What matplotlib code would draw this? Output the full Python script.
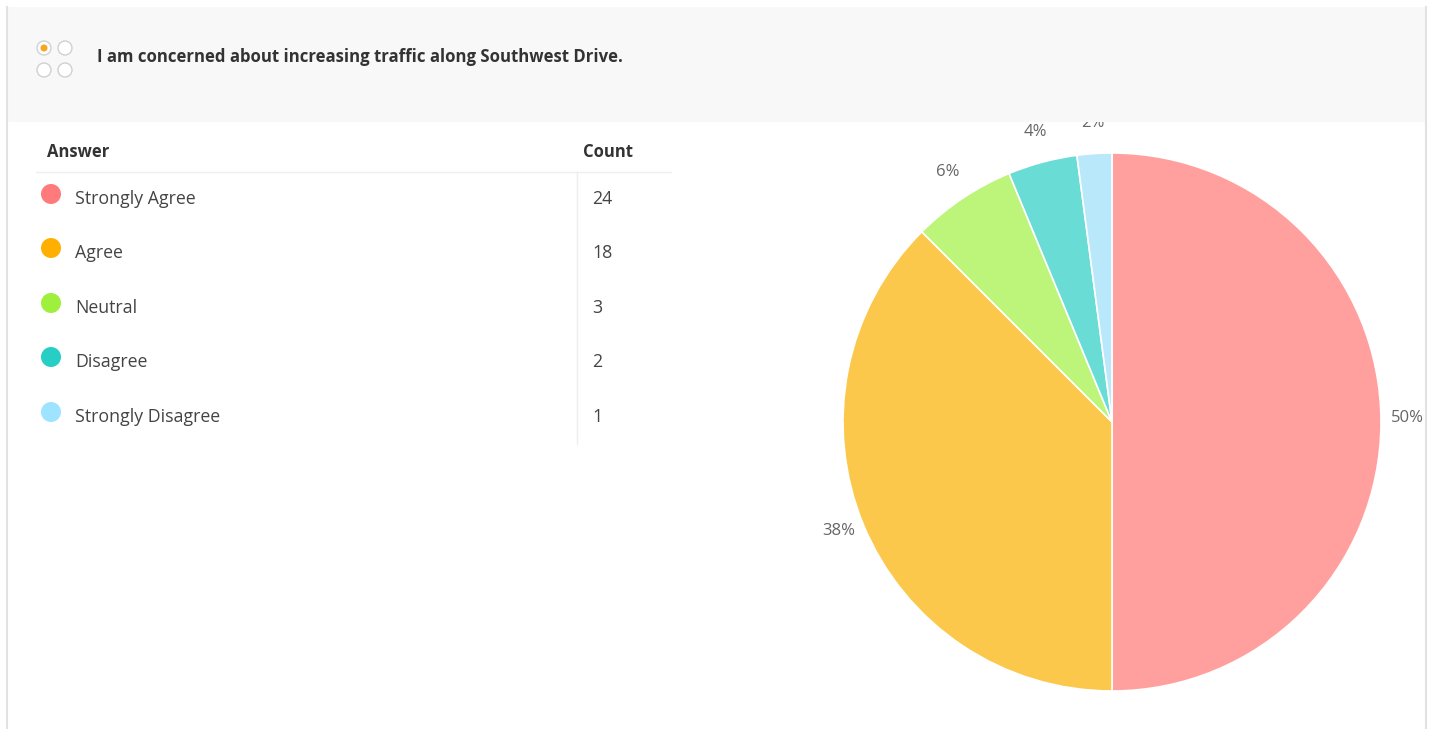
import matplotlib
matplotlib.use("Agg")
import matplotlib.pyplot as plt
from matplotlib.patches import Rectangle, Circle

title = "I am concerned about increasing traffic along Southwest Drive."
answers = ["Strongly Agree", "Agree", "Neutral", "Disagree", "Strongly Disagree"]
counts = [24, 18, 3, 2, 1]
dot_colors = ["#FF7B7B", "#FFAF00", "#9EF03C", "#26CEC4", "#9EE3FF"]
pie_colors = ["#FFA09E", "#FBC84C", "#BCF57A", "#6ADCD6", "#BAE8FB"]

W, H = 1435, 729
fig = plt.figure(figsize=(W / 100, H / 100), dpi=100)
ax = fig.add_axes([0, 0, 1, 1])
FONT = "Open Sans"

def Y(py):
    return H - py

# pie
wedges, texts, autotexts = ax.pie(
    counts, colors=pie_colors, startangle=90, counterclock=False,
    center=(1112, Y(422)), radius=269,
    autopct=lambda p: f"{p:.0f}%", pctdistance=1.1,
    wedgeprops=dict(edgecolor="white", linewidth=1.2),
    textprops=dict(fontsize=12, color="#666666", family=FONT),
)
for t in autotexts:
    x, y = t.get_position()
    t.set_position((x, y + 4))

ax.set_xlim(0, W)
ax.set_ylim(0, H)
ax.set_aspect("equal")
ax.axis("off")

# header band (covers top of pie labels)
ax.add_patch(Rectangle((8, Y(122)), 1417, 115, facecolor="#F8F8F8", edgecolor="none", zorder=5))
# borders
ax.plot([7, 7], [0, Y(7)], color="#E2E2E2", lw=1.5, zorder=6)
ax.plot([1426, 1426], [0, Y(7)], color="#E2E2E2", lw=1.5, zorder=6)

# radio icon
for (cx, cy) in [(44, 48), (65, 48), (44, 70), (65, 70)]:
    ax.add_patch(Circle((cx, Y(cy)), 7, facecolor="white", edgecolor="#D0D0D0", lw=1, zorder=7))
ax.add_patch(Circle((44, Y(48)), 3.5, facecolor="#F5A623", edgecolor="none", zorder=8))

ax.text(97, Y(57), title, fontsize=12.1, fontweight="bold", color="#333333",
        family=FONT, va="center", ha="left", zorder=8)

# table
ax.text(47, Y(152), "Answer", fontsize=12, fontweight="bold", color="#333333",
        family=FONT, va="center", ha="left")
ax.text(583, Y(152), "Count", fontsize=12, fontweight="bold", color="#333333",
        family=FONT, va="center", ha="left")
ax.plot([36, 671], [Y(172), Y(172)], color="#EEEEEE", lw=1)
ax.plot([577, 577], [Y(172), Y(444)], color="#EEEEEE", lw=1)

row_y = [199, 253, 308, 362, 417]
for yy, lab, c, dc in zip(row_y, answers, counts, dot_colors):
    ax.add_patch(Circle((51, Y(yy - 5)), 10, facecolor=dc, edgecolor="none"))
    ax.text(75, Y(yy), lab, fontsize=12.8, color="#444444", family=FONT, va="center", ha="left")
    ax.text(592, Y(yy), str(c), fontsize=12.8, color="#444444", family=FONT, va="center", ha="left")

fig.savefig("out.png", dpi=100, facecolor="white")
